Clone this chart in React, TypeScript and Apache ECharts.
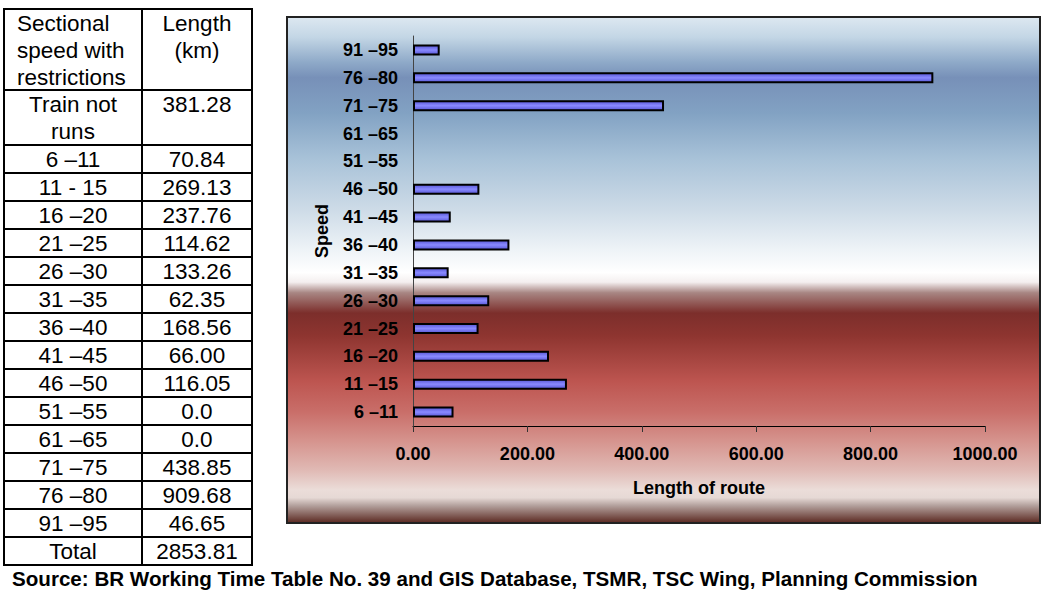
import React, { useEffect, useRef } from "react";
import * as echarts from "echarts";

// ---- data ----
const tableHeaderLeft = "Sectional\nspeed with\nrestrictions";
const tableHeaderRight = "Length\n(km)";
const tableLabels = [
  "Train not\nruns", "6 –11", "11 - 15", "16 –20", "21 –25", "26 –30", "31 –35",
  "36 –40", "41 –45", "46 –50", "51 –55", "61 –65", "71 –75", "76 –80", "91 –95", "Total",
];
const tableValues = [
  "381.28", "70.84", "269.13", "237.76", "114.62", "133.26", "62.35",
  "168.56", "66.00", "116.05", "0.0", "0.0", "438.85", "909.68", "46.65", "2853.81",
];
const speedCategories = [
  "6 –11", "11 –15", "16 –20", "21 –25", "26 –30", "31 –35", "36 –40",
  "41 –45", "46 –50", "51 –55", "61 –65", "71 –75", "76 –80", "91 –95",
];
const routeLengths = [
  70.84, 269.13, 237.76, 114.62, 133.26, 62.35, 168.56,
  66.0, 116.05, 0.0, 0.0, 438.85, 909.68, 46.65,
];
const xTicks = { min: 0, max: 1000, interval: 200 };
const sourceText =
  "Source: BR Working Time Table No. 39 and GIS Database, TSMR, TSC Wing, Planning Commission";

const FONT = 'Arial, "Liberation Sans", Helvetica, sans-serif';

function buildTable(): any[] {
  const els: any[] = [];
  const left = 4, right = 252, mid = 142, top = 9;
  const heights = [81, 55];
  for (let i = 1; i < tableLabels.length; i++) heights.push(28);
  const tops: number[] = [];
  let y = top;
  for (const h of heights) { tops.push(y); y += h; }
  const bottom = y;
  const c1 = (left + mid) / 2, c2 = (mid + right) / 2;
  const txt = (t: string, x: number, yy: number, align = "center") => ({
    type: "text",
    style: {
      text: t, x, y: yy, align, verticalAlign: "top",
      fontSize: 22.5, lineHeight: 27, fontFamily: FONT, fill: "#000",
    },
  });
  els.push({
    type: "rect",
    shape: { x: left, y: top, width: right - left, height: bottom - top },
    style: { fill: "#fff", stroke: "#000", lineWidth: 2 },
  });
  els.push({ type: "line", shape: { x1: mid, y1: top, x2: mid, y2: bottom }, style: { stroke: "#000", lineWidth: 2 } });
  for (let i = 1; i < tops.length; i++) {
    els.push({ type: "line", shape: { x1: left, y1: tops[i], x2: right, y2: tops[i] }, style: { stroke: "#000", lineWidth: 2 } });
  }
  els.push(txt(tableHeaderLeft, 17, tops[0] + 1, "left"));
  els.push(txt(tableHeaderRight, c2, tops[0] + 1));
  tableLabels.forEach((lab, i) => {
    els.push(txt(lab, c1, tops[i + 1] + 1));
    els.push(txt(tableValues[i], c2, tops[i + 1] + 1));
  });
  return els;
}

export default function App() {
  const ref = useRef<HTMLDivElement>(null);
  useEffect(() => {
    if (!ref.current) return;
    const chart = echarts.init(ref.current, undefined, { renderer: "svg" });
    const panel = { x: 287, y: 17, w: 753, h: 506 };
    const bgGradient = new echarts.graphic.LinearGradient(0, 0, 0, 1, [
      { offset: 0, color: "#dde8f1" },
      { offset: 0.04, color: "#c3d6e5" },
      { offset: 0.09, color: "#8ea9c8" },
      { offset: 0.12, color: "#7790b8" },
      { offset: 0.19, color: "#82a2c3" },
      { offset: 0.28, color: "#a8c2d8" },
      { offset: 0.38, color: "#cddbe7" },
      { offset: 0.46, color: "#eef3f7" },
      { offset: 0.505, color: "#ffffff" },
      { offset: 0.524, color: "#f4efef" },
      { offset: 0.545, color: "#a88683" },
      { offset: 0.585, color: "#7c2e2b" },
      { offset: 0.63, color: "#8e3530" },
      { offset: 0.72, color: "#bd5550" },
      { offset: 0.78, color: "#c96e69" },
      { offset: 0.84, color: "#d6958f" },
      { offset: 0.895, color: "#e0b9b4" },
      { offset: 0.935, color: "#ebddd9" },
      { offset: 0.95, color: "#e6d9d5" },
      { offset: 0.965, color: "#b5a39f" },
      { offset: 1, color: "#5a2820" },
    ]);
    const barGradient = new echarts.graphic.LinearGradient(0, 0, 0, 1, [
      { offset: 0, color: "#5858d6" },
      { offset: 0.5, color: "#8a8aff" },
      { offset: 1, color: "#5858d6" },
    ]);
    chart.setOption({
      animation: false,
      textStyle: { fontFamily: FONT },
      graphic: [
        ...buildTable(),
        {
          type: "rect",
          z: -10,
          shape: { x: panel.x, y: panel.y, width: panel.w, height: panel.h },
          style: { fill: bgGradient, stroke: "#222", lineWidth: 2 },
        },
        {
          type: "text",
          style: {
            text: sourceText, x: 12, y: 578, align: "left", verticalAlign: "middle",
            fontSize: 20.6, fontWeight: "bold", fontFamily: FONT, fill: "#000",
          },
        },
      ],
      grid: { left: 413, top: 36, width: 572, height: 390, containLabel: false },
      xAxis: {
        type: "value",
        min: xTicks.min, max: xTicks.max, interval: xTicks.interval,
        axisLine: { show: true, lineStyle: { color: "#000", width: 1 } },
        axisTick: { show: true, length: 6, lineStyle: { color: "#333" } },
        splitLine: { show: false },
        axisLabel: {
          formatter: (v: number) => v.toFixed(2),
          fontSize: 18, fontWeight: "bold", color: "#000", margin: 19, fontFamily: FONT,
        },
        name: "Length of route",
        nameLocation: "middle",
        nameGap: 53,
        nameTextStyle: { fontSize: 18, fontWeight: "bold", color: "#000", fontFamily: FONT },
      },
      yAxis: {
        type: "category",
        data: speedCategories,
        axisLine: { show: true, lineStyle: { color: "#444", width: 1 } },
        axisTick: { show: false },
        axisLabel: { fontSize: 18, fontWeight: "bold", color: "#000", margin: 15, fontFamily: FONT },
        name: "Speed",
        nameLocation: "middle",
        nameRotate: 90,
        nameGap: 82,
        nameTextStyle: { fontSize: 18, fontWeight: "bold", color: "#000", fontFamily: FONT },
      },
      series: [
        {
          type: "bar",
          barWidth: 11,
          data: routeLengths.map((v) =>
            v === 0 ? { value: v, itemStyle: { borderWidth: 0, opacity: 0 } } : v
          ),
          itemStyle: { color: barGradient, borderColor: "#000", borderWidth: 2 },
        },
      ],
    });
    return () => chart.dispose();
  }, []);
  return (
    <div
      ref={ref}
      style={{ position: "fixed", left: 0, top: 0, width: 1054, height: 592, background: "#fff" }}
    />
  );
}
